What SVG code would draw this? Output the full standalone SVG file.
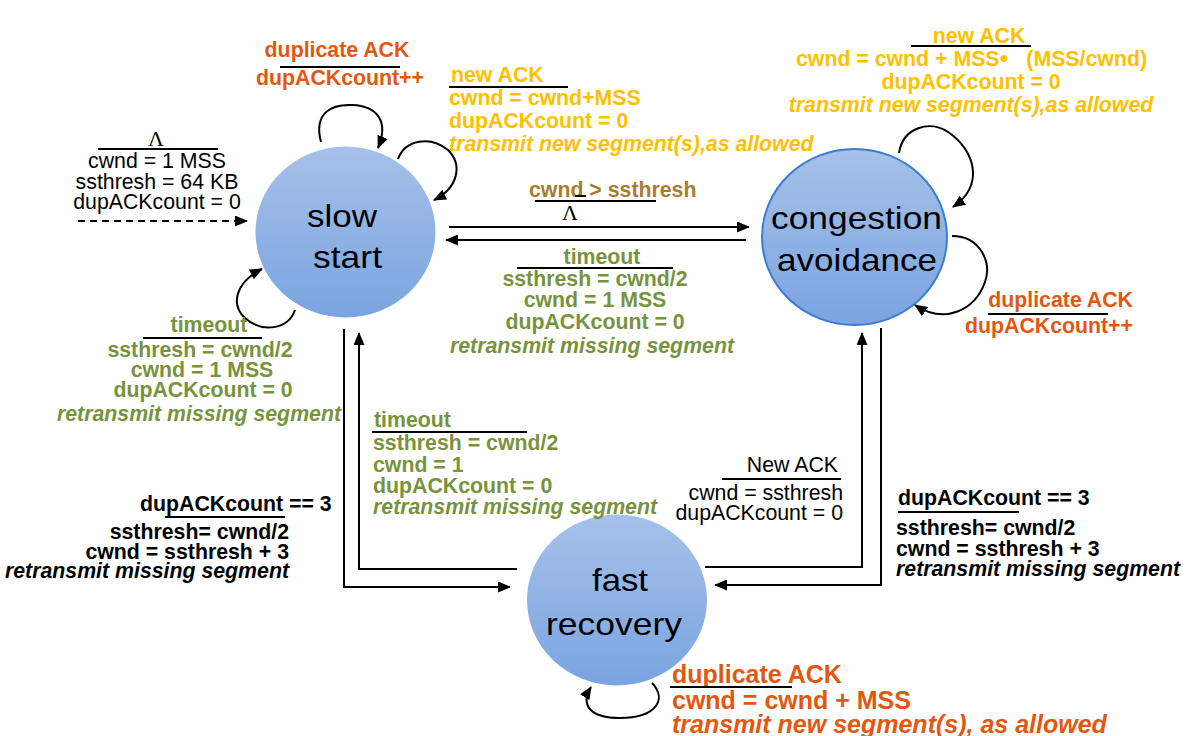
<svg xmlns="http://www.w3.org/2000/svg" width="1189" height="736" viewBox="0 0 1189 736">
<style>
.t{font-family:"Liberation Sans",Arial,sans-serif;font-size:21.3px}
.b{font-weight:bold}
.i{font-style:italic}
.node{font-family:"Liberation Sans",Arial,sans-serif;font-size:32px;fill:#000}
.org{fill:#e4570f}
.yel{fill:#ffc000}
.grn{fill:#77933c}
.brn{fill:#a97c2f}
.blk{fill:#000}
.lam{font-family:"Liberation Serif","Times New Roman",serif;font-size:22px;fill:#000}
.sep{stroke:#000;stroke-width:2}
.conn{stroke:#000;stroke-width:2;fill:none;marker-end:url(#ah)}
.circ{fill:url(#grad)}
</style>
<defs>
<linearGradient id="grad" x1="0" y1="0" x2="0" y2="1">
<stop offset="0" stop-color="#a6c1e9"/>
<stop offset="1" stop-color="#7aa4e0"/>
</linearGradient>
<marker id="ah" markerUnits="userSpaceOnUse" markerWidth="13" markerHeight="11" refX="12" refY="5.5" orient="auto">
<path d="M0,0 L13,5.5 L0,11 z" fill="#000"/>
</marker>
</defs>
<rect width="1189" height="736" fill="#fff"/>

<g id="slow-start">
<ellipse class="circ" cx="345.5" cy="232" rx="90" ry="85.5"/>
<text class="node" x="307" y="227" textLength="70" lengthAdjust="spacingAndGlyphs">slow</text>
<text class="node" x="313" y="268" textLength="69" lengthAdjust="spacingAndGlyphs">start</text>
</g>

<g id="congestion-avoidance">
<ellipse class="circ" cx="854.5" cy="237" rx="92.5" ry="88" stroke="#3a7dcc" stroke-width="2"/>
<text class="node" x="771" y="229" textLength="171" lengthAdjust="spacingAndGlyphs">congestion</text>
<text class="node" x="777" y="271" textLength="160" lengthAdjust="spacingAndGlyphs">avoidance</text>
</g>

<g id="fast-recovery">
<ellipse class="circ" cx="617" cy="600" rx="90" ry="85.5"/>
<text class="node" x="592" y="591" textLength="56" lengthAdjust="spacingAndGlyphs">fast</text>
<text class="node" x="546" y="635" textLength="136" lengthAdjust="spacingAndGlyphs">recovery</text>
</g>

<g id="connectors">
<path d="M78,221 L247,221" stroke="#000" stroke-width="2" stroke-dasharray="7 5" fill="none" marker-end="url(#ah)"/>
<path class="conn" d="M321,142 C313,112 333,104 352,105 C378,106 389,122 378,148"/>
<path class="conn" d="M398,159 C405,140 430,135 448,150 C463,165 458,188 434,200"/>
<path class="conn" d="M295,310 C288,330 262,333 245,318 C230,304 236,282 262,269"/>
<path class="conn" d="M899,153 C903,127 930,120 948,132 C975,150 985,185 953,207"/>
<path class="conn" d="M952,236 C980,236 992,262 985,282 C975,310 945,325 915,305"/>
<path class="conn" d="M652,683 C668,700 655,718 620,718 C590,718 580,705 591,687"/>
<path class="conn" d="M449,227 L749,227"/>
<path class="conn" d="M746,240 L446,240"/>
<path class="conn" d="M344,329 L344,587 L510,587"/>
<path class="conn" d="M517,569 L359,569 L359,333"/>
<path class="conn" d="M705,567 L862,567 L862,333"/>
<path class="conn" d="M881,328 L881,585 L715,585"/>
</g>

<g id="label-init">
<text class="lam" x="156" y="146" text-anchor="middle">Λ</text>
<line class="sep" x1="98" y1="149" x2="218" y2="149"/>
<text class="t blk" x="157" y="168" text-anchor="middle">cwnd = 1 MSS</text>
<text class="t blk" x="157" y="189" text-anchor="middle">ssthresh = 64 KB</text>
<text class="t blk" x="157" y="209" text-anchor="middle">dupACKcount = 0</text>
</g>

<g id="label-ss-dup">
<text class="t b org" x="337" y="57" text-anchor="middle">duplicate ACK</text>
<line class="sep" x1="280" y1="67" x2="400" y2="67"/>
<text class="t b org" x="340" y="85" text-anchor="middle">dupACKcount++</text>
</g>

<g id="label-ss-new">
<text class="t b yel" x="451" y="82">new ACK</text>
<line class="sep" x1="449" y1="87" x2="568" y2="87"/>
<text class="t b yel" x="449" y="105">cwnd = cwnd+MSS</text>
<text class="t b yel" x="449" y="128">dupACKcount = 0</text>
<text class="t b i yel" x="449" y="151">transmit new segment(s),as allowed</text>
</g>

<g id="label-ss-ca">
<text class="t b brn" x="529" y="197">cwnd &gt; ssthresh</text>
<line class="sep" x1="535" y1="201" x2="656" y2="201"/>
<line class="sep" x1="575" y1="196" x2="586" y2="196"/>
<text class="lam" x="570" y="220" text-anchor="middle">Λ</text>
</g>

<g id="label-ca-timeout">
<text class="t b grn" x="602" y="264" text-anchor="middle">timeout</text>
<line class="sep" x1="517" y1="268" x2="673" y2="268"/>
<text class="t b grn" x="595" y="286" text-anchor="middle">ssthresh = cwnd/2</text>
<text class="t b grn" x="595" y="307" text-anchor="middle">cwnd = 1 MSS</text>
<text class="t b grn" x="595" y="329" text-anchor="middle">dupACKcount = 0</text>
<text class="t b i grn" x="592" y="353" text-anchor="middle">retransmit missing segment</text>
</g>

<g id="label-ca-new">
<text class="t b yel" x="979" y="43" text-anchor="middle">new ACK</text>
<line class="sep" x1="911" y1="46" x2="1031" y2="46"/>
<text class="t b yel" x="796" y="66">cwnd = cwnd + MSS<tspan x="1004" text-anchor="middle" style="font-size:24px">•</tspan></text>
<text class="t b yel" x="1147" y="66" text-anchor="end">(MSS/cwnd)</text>
<text class="t b yel" x="971" y="89" text-anchor="middle">dupACKcount = 0</text>
<text class="t b i yel" x="971" y="112" text-anchor="middle">transmit new segment(s),as allowed</text>
</g>

<g id="label-ca-dup">
<text class="t b org" x="1133" y="307" text-anchor="end">duplicate ACK</text>
<line class="sep" x1="988" y1="314" x2="1108" y2="314"/>
<text class="t b org" x="1133" y="333" text-anchor="end">dupACKcount++</text>
</g>

<g id="label-ss-timeout">
<text class="t b grn" x="209" y="332" text-anchor="middle">timeout</text>
<line class="sep" x1="143" y1="338" x2="262" y2="338"/>
<text class="t b grn" x="200" y="357" text-anchor="middle">ssthresh = cwnd/2</text>
<text class="t b grn" x="202" y="377" text-anchor="middle">cwnd = 1 MSS</text>
<text class="t b grn" x="203" y="397" text-anchor="middle">dupACKcount = 0</text>
<text class="t b i grn" x="199" y="421" text-anchor="middle">retransmit missing segment</text>
</g>

<g id="label-ss-fr">
<text class="t b blk" x="140" y="511">dupACKcount == 3</text>
<line class="sep" x1="165" y1="517" x2="285" y2="517"/>
<text class="t b blk" x="289" y="539" text-anchor="end">ssthresh= cwnd/2</text>
<text class="t b blk" x="289" y="559" text-anchor="end">cwnd = ssthresh + 3</text>
<text class="t b i blk" x="289" y="578" text-anchor="end">retransmit missing segment</text>
</g>

<g id="label-fr-timeout">
<text class="t b grn" x="374" y="427">timeout</text>
<line class="sep" x1="372" y1="432" x2="527" y2="432"/>
<text class="t b grn" x="373" y="450">ssthresh = cwnd/2</text>
<text class="t b grn" x="373" y="472">cwnd = 1</text>
<text class="t b grn" x="373" y="493">dupACKcount = 0</text>
<text class="t b i grn" x="373" y="514">retransmit missing segment</text>
</g>

<g id="label-fr-new">
<text class="t blk" x="838" y="472" text-anchor="end">New ACK</text>
<line class="sep" x1="722" y1="479" x2="841" y2="479"/>
<text class="t blk" x="843" y="500" text-anchor="end">cwnd = ssthresh</text>
<text class="t blk" x="843" y="520" text-anchor="end">dupACKcount = 0</text>
</g>

<g id="label-ca-fr">
<text class="t b blk" x="898" y="505">dupACKcount == 3</text>
<line class="sep" x1="898" y1="512" x2="1019" y2="512"/>
<text class="t b blk" x="896" y="535">ssthresh= cwnd/2</text>
<text class="t b blk" x="896" y="556">cwnd = ssthresh + 3</text>
<text class="t b i blk" x="896" y="576">retransmit missing segment</text>
</g>

<g id="label-fr-dup">
<text class="t b org" x="672" y="683" style="font-size:25px">duplicate ACK</text>
<line class="sep" x1="670" y1="687" x2="792" y2="687"/>
<text class="t b org" x="672" y="709" style="font-size:25px">cwnd = cwnd + MSS</text>
<text class="t b i org" x="672" y="733" style="font-size:25px">transmit new segment(s), as allowed</text>
</g>
</svg>
